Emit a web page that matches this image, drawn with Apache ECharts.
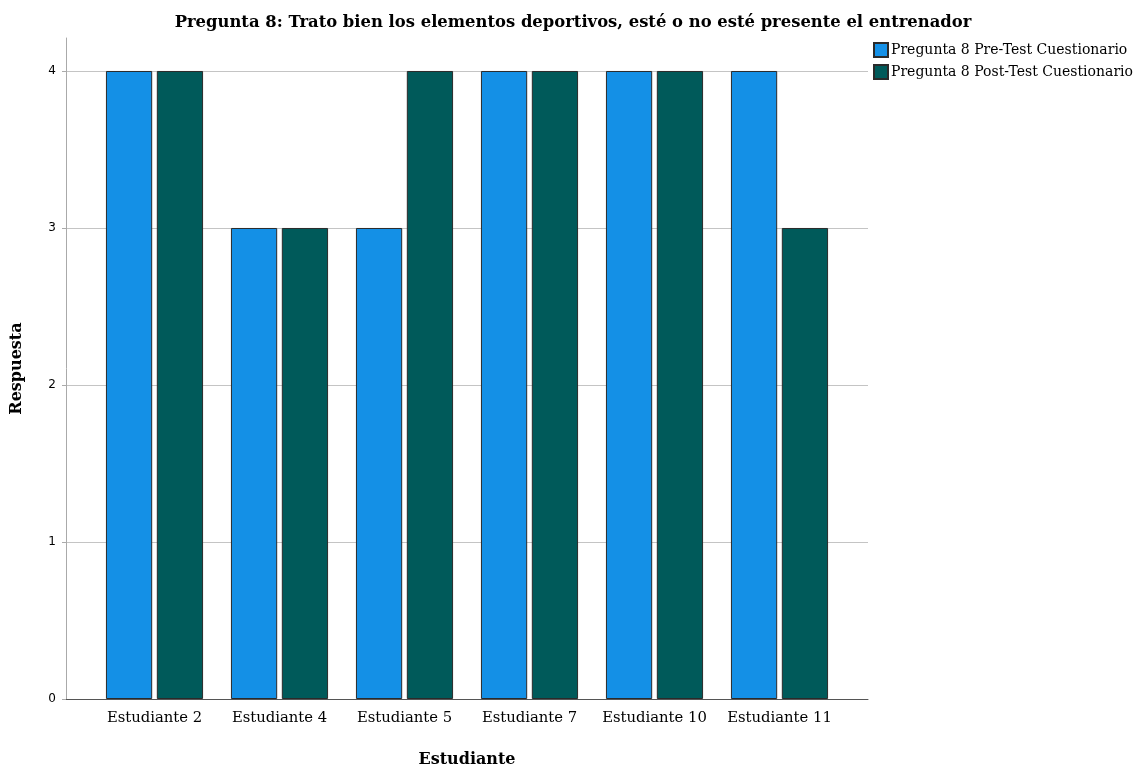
<!DOCTYPE html>
<html><head><meta charset="utf-8">
<script src="https://cdn.jsdelivr.net/npm/echarts@6/dist/echarts.min.js"></script>
<style>html,body{margin:0;padding:0;background:#fff}#c{width:1146px;height:768px}</style>
</head><body><div id="c"></div>
<script>
const categories = ['Estudiante 2','Estudiante 4','Estudiante 5','Estudiante 7','Estudiante 10','Estudiante 11'];
const preTest = [4,3,3,4,4,4];
const postTest = [4,3,4,4,4,3];
const seriesNames = ['Pregunta 8 Pre-Test Cuestionario','Pregunta 8 Post-Test Cuestionario'];
const yTicks = [0,1,2,3,4];
const titleText = 'Pregunta 8: Trato bien los elementos deportivos, esté o no esté presente el entrenador';

const serif = '"DejaVu Serif", "Liberation Serif", serif';
const chart = echarts.init(document.getElementById('c'));
const yMax = 4.21;
chart.setOption({
  animation: false,
  title: { text: titleText, left: 'center', top: 10,
    textStyle: { fontFamily: serif, fontSize: 16.4, fontWeight: 'bold', color: '#000' } },
  legend: {
    orient: 'vertical', left: 868, top: 37, itemWidth: 14, itemHeight: 14, itemGap: 6,
    icon: 'rect', data: seriesNames,
    textStyle: { fontFamily: serif, fontSize: 14, color: '#000', padding: [0,0,0,-2] }
  },
  grid: [
    { left: 66, right: 278, top: 38, bottom: 69, outerBoundsMode: 'none', containLabel: false },
    { left: 92, right: 304, top: 38, bottom: 69, outerBoundsMode: 'none', containLabel: false }
  ],
  xAxis: [
    { type: 'category', gridIndex: 0, data: [''], axisLine: { lineStyle: { color: '#555', width: 1 } },
      axisTick: { show: false }, axisLabel: { show: false },
      name: 'Estudiante', nameLocation: 'middle', nameGap: 53,
      nameTextStyle: { fontFamily: serif, fontSize: 16, fontWeight: 'bold', color: '#000' } },
    { type: 'category', gridIndex: 1, data: categories, axisLine: { show: false },
      axisTick: { show: false },
      axisLabel: { interval: 0, hideOverlap: false, fontFamily: serif, fontSize: 14.8, color: '#000', margin: 12 } }
  ],
  yAxis: [
    { type: 'value', gridIndex: 0, min: 0, max: yMax, interval: 1,
      axisLine: { show: true, lineStyle: { color: '#aaa', width: 1 } },
      axisTick: { show: true, length: 4, lineStyle: { color: '#aaa' } },
      axisLabel: { showMaxLabel: false, fontFamily: '"DejaVu Sans", sans-serif', fontSize: 12, color: '#000', margin: 10 },
      splitLine: { show: true, showMaxLine: false, lineStyle: { color: '#c4c4c4', width: 1 } },
      name: 'Respuesta', nameLocation: 'middle', nameGap: 41,
      nameTextStyle: { fontFamily: serif, fontSize: 16, fontWeight: 'bold', color: '#000' } },
    { type: 'value', gridIndex: 1, min: 0, max: yMax, interval: 1, show: false, splitLine: { show: false } }
  ],
  series: [
    { name: seriesNames[0], type: 'bar', xAxisIndex: 1, yAxisIndex: 1, data: preTest,
      barWidth: '37%', barGap: '10%',
      itemStyle: { color: '#1490e6', borderColor: '#2a2a2a', borderWidth: 1 } },
    { name: seriesNames[1], type: 'bar', xAxisIndex: 1, yAxisIndex: 1, data: postTest,
      barWidth: '37%', barGap: '10%',
      itemStyle: { color: '#005a5a', borderColor: '#2a2a2a', borderWidth: 1 } }
  ]
});
</script></body></html>
